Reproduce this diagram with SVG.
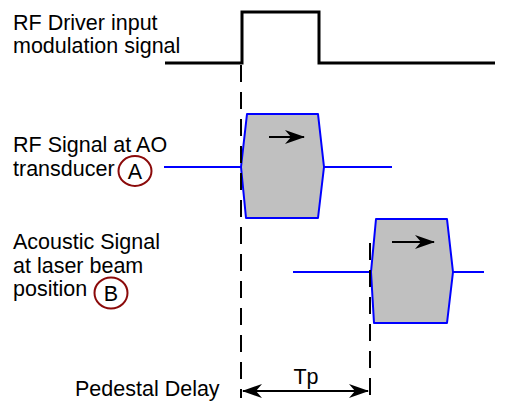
<svg xmlns="http://www.w3.org/2000/svg" width="513" height="403" viewBox="0 0 513 403">
<defs>
<style>
text{font-family:"Liberation Sans",Arial,sans-serif;font-size:21.5px;fill:#000}
.sig{fill:none;stroke:#000;stroke-width:3}
.dash{fill:none;stroke:#000;stroke-width:2;stroke-dasharray:17 10}
.blue{fill:none;stroke:#0000ff;stroke-width:2}
.pulse{fill:#c0c0c0;stroke:#0000ff;stroke-width:2;stroke-linejoin:round}
.ring{fill:none;stroke:#8b0a0a;stroke-width:2}
.arr{fill:none;stroke:#000;stroke-width:2}
</style>
<marker id="ah" viewBox="0 0 20 14" refX="19" refY="7" markerWidth="20" markerHeight="14" markerUnits="userSpaceOnUse" orient="auto-start-reverse" overflow="visible">
<path d="M0,0 L20,7 L0,14 L6,7 Z" fill="#000"/>
</marker>
</defs>
<g id="labels">
<text x="13" y="30">RF Driver input</text>
<text x="13" y="53">modulation signal</text>
<text x="13" y="152">RF Signal at AO</text>
<text x="13" y="176">transducer</text>
<text x="13" y="249">Acoustic Signal</text>
<text x="13" y="273">at laser beam</text>
<text x="13" y="296">position</text>
<text x="75" y="396">Pedestal Delay</text>
</g>
<g id="markerA">
<ellipse class="ring" cx="135" cy="171" rx="16.5" ry="15"/>
<text x="135" y="179" text-anchor="middle">A</text>
</g>
<g id="markerB">
<ellipse class="ring" cx="111" cy="293" rx="16.5" ry="15.5"/>
<text x="111" y="301" text-anchor="middle">B</text>
</g>
<g id="modulation-signal">
<polyline class="sig" points="165,63 242,63 242,12 319,12 319,63 495,63"/>
</g>
<g id="rf-signal">
<line class="blue" x1="164" y1="167" x2="392" y2="167"/>
<polygon class="pulse" points="247,114 318,114 324,167 318,218 246,218 241,167"/>
<line class="arr" x1="269" y1="137" x2="304" y2="137" marker-end="url(#ah)"/>
</g>
<g id="acoustic-signal">
<line class="blue" x1="293" y1="272" x2="484" y2="272"/>
<polygon class="pulse" points="376,219 447,219 453,272 447,323 374,323 371,272"/>
<line class="arr" x1="392" y1="242" x2="434" y2="242" marker-end="url(#ah)"/>
</g>
<g id="connectors">
<line class="dash" x1="241" y1="65" x2="241" y2="398"/>
<line class="dash" x1="370" y1="243" x2="370" y2="398"/>
<line class="arr" x1="243" y1="391" x2="368" y2="391" marker-start="url(#ah)" marker-end="url(#ah)"/>
<text x="306" y="384" text-anchor="middle">Tp</text>
</g>
</svg>
